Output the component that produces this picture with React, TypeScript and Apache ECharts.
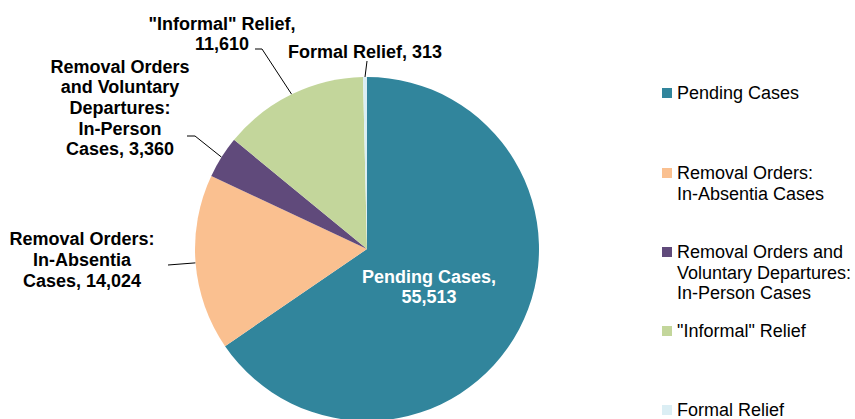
import React, { useEffect, useRef } from "react";
import * as echarts from "echarts";

const categories = [
  "Pending Cases",
  "Removal Orders: In-Absentia Cases",
  "Removal Orders and Voluntary Departures: In-Person Cases",
  "\"Informal\" Relief",
  "Formal Relief",
];
const values = [55513, 14024, 3360, 11610, 313];
const labelPrefixes = [
  "Pending Cases,\n",
  "Removal Orders:\nIn-Absentia\nCases, ",
  "Removal Orders\nand Voluntary\nDepartures:\nIn-Person\nCases, ",
  "\"Informal\" Relief,\n",
  "Formal Relief, ",
];
const legendLines = [
  ["Pending Cases"],
  ["Removal Orders:", "In-Absentia Cases"],
  ["Removal Orders and", "Voluntary Departures:", "In-Person Cases"],
  ["\"Informal\" Relief"],
  ["Formal Relief"],
];
const colors = ["#31859C", "#FAC090", "#604A7B", "#C3D69B", "#DBEEF4"];

// layout (not data)
const FONT = "'Liberation Sans', Arial, sans-serif";
const CENTER = [367, 249];
const RADIUS = 172;
const labelCenters = [
  [429, 287],
  [82, 260],
  [120, 108],
  [222, 34],
  [365, 52],
];
// [turn point, label-side end point] for the leader lines
const leaderEnds: (number[][] | null)[] = [
  null,
  [[168, 265], [168, 265]],
  [[195, 136], [187, 136]],
  [[262, 49], [255, 49]],
  [[367, 61], [367, 61]],
];
const legendFirstLineY = [93, 173, 252, 331, 410];
const LEGEND_LH = 20.5;
const LEGEND_LEFT = 662;
const LEGEND_TEXT_X = LEGEND_LEFT + 15;

export default function App() {
  const ref = useRef<HTMLDivElement>(null);
  useEffect(() => {
    if (!ref.current) return;
    const chart = echarts.init(ref.current, undefined, { renderer: "svg" });
    const total = values.reduce((a, b) => a + b, 0);
    const edgePoint = (i: number) => {
      let cum = 0;
      for (let k = 0; k < i; k++) cum += values[k];
      const mid = ((cum + values[i] / 2) / total) * Math.PI * 2;
      return [CENTER[0] + RADIUS * Math.sin(mid), CENTER[1] - RADIUS * Math.cos(mid)];
    };
    const extraLegendText: any[] = [];
    legendLines.forEach((lines, i) => {
      lines.slice(1).forEach((t, k) => {
        extraLegendText.push({
          type: "text",
          x: LEGEND_TEXT_X,
          y: legendFirstLineY[i] + (k + 1) * LEGEND_LH,
          silent: true,
          style: {
            text: t,
            font: `18px ${FONT}`,
            fill: "#000",
            align: "left",
            verticalAlign: "middle",
            textAlign: "left",
            textVerticalAlign: "middle",
          },
        });
      });
    });
    chart.setOption({
      animation: false,
      legend: legendLines.map((lines, i) => ({
        data: [{ name: categories[i], icon: "rect" }],
        left: LEGEND_LEFT,
        top: legendFirstLineY[i] - LEGEND_LH / 2,
        orient: "vertical",
        padding: 0,
        itemWidth: 10,
        itemHeight: 10,
        selectedMode: false,
        formatter: () => lines[0],
        textStyle: {
          fontSize: 18,
          lineHeight: LEGEND_LH,
          color: "#000",
          fontFamily: FONT,
        },
      })),
      graphic: extraLegendText,
      series: [
        {
          type: "pie",
          center: CENTER,
          radius: RADIUS,
          startAngle: 90,
          clockwise: true,
          avoidLabelOverlap: false,
          data: categories.map((name, i) => ({
            name,
            value: values[i],
            itemStyle: { color: colors[i] },
            label:
              i === 0
                ? { position: "inside", color: "#fff" }
                : { position: "outside", color: "#000" },
            labelLine: { show: i !== 0 },
          })),
          label: {
            formatter: (p: any) =>
              labelPrefixes[p.dataIndex] + Number(p.value).toLocaleString("en-US"),
            fontSize: 18,
            fontWeight: "bold",
            lineHeight: 20.7,
            fontFamily: FONT,
            align: "center",
          },
          labelLine: {
            show: true,
            lineStyle: { color: "#000", width: 1 },
          },
          labelLayout: (params: any) => {
            const i = params.dataIndex;
            const res: any = {
              x: labelCenters[i][0],
              y: labelCenters[i][1],
              align: "center",
              verticalAlign: "middle",
            };
            const ends = leaderEnds[i];
            if (ends) {
              const p0 =
                params.labelLinePoints && params.labelLinePoints[0]
                  ? params.labelLinePoints[0]
                  : edgePoint(i);
              res.labelLinePoints = [p0, ends[0], ends[1]];
            }
            return res;
          },
        },
      ],
    });
    return () => chart.dispose();
  }, []);
  return (
    <div
      ref={ref}
      style={{ position: "fixed", left: 0, top: 0, width: 855, height: 419, background: "#fff" }}
    />
  );
}
